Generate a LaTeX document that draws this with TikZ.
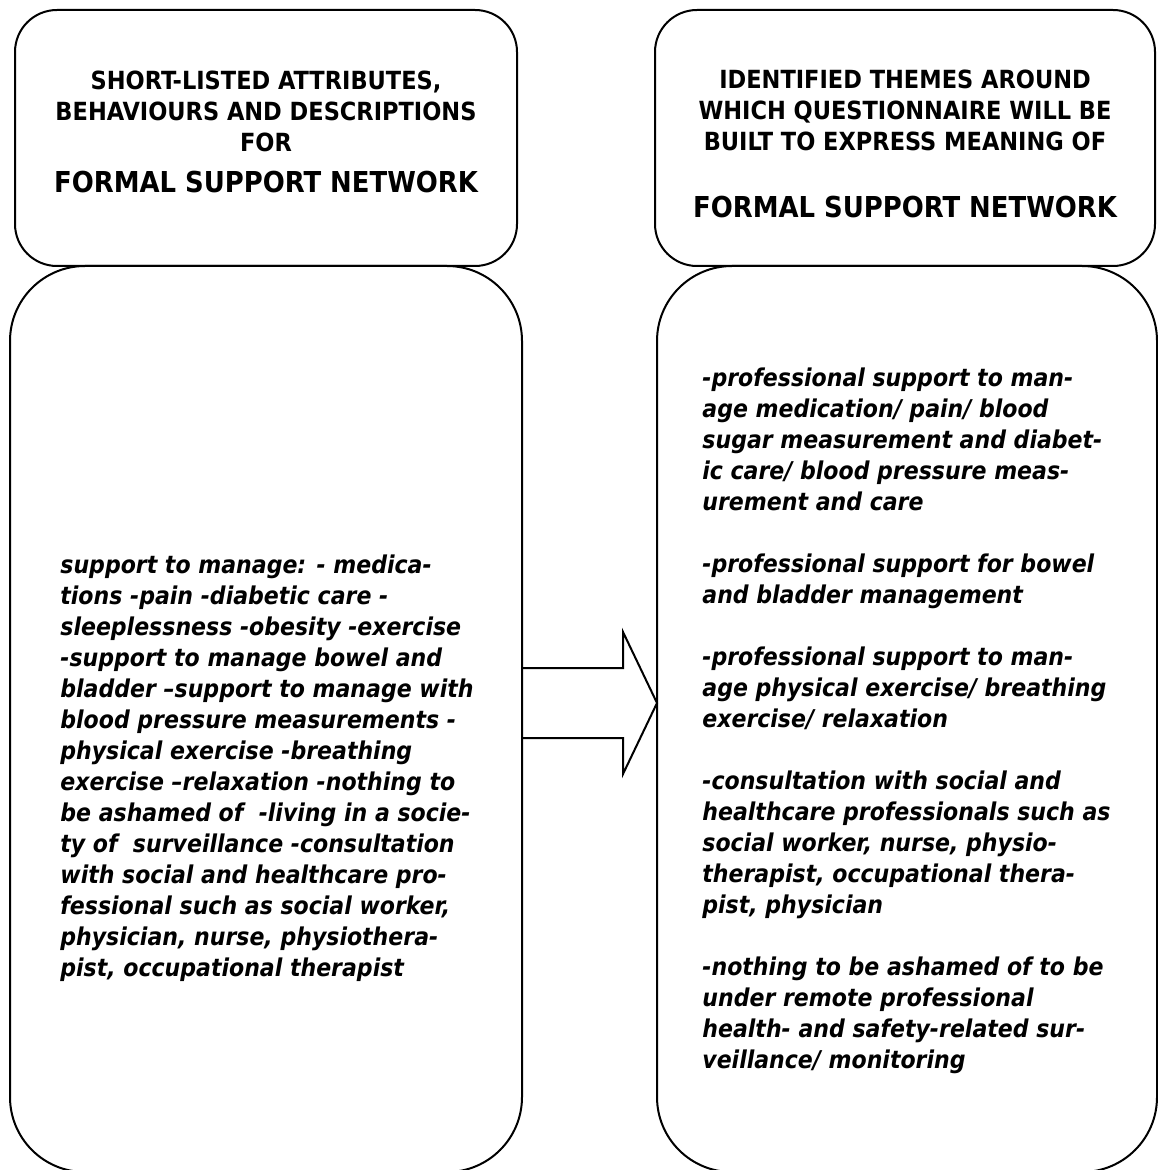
\documentclass[tikz,border=0pt]{standalone}
\usepackage{fontspec}
\setmainfont{DejaVu Sans Condensed}
\usetikzlibrary{calc}
\begin{document}
\begin{tikzpicture}[x=0.5pt,y=-0.5pt,
  headbox/.style={draw, line width=1pt, rounded corners=21pt, inner sep=0pt, outer sep=0pt},
  bodybox/.style={draw, line width=1pt, rounded corners=37.5pt, inner sep=0pt, outer sep=0pt},
  headtext/.style={inner sep=0pt, align=center, font=\fontsize{12.5pt}{15.5pt}\selectfont\bfseries},
  nametext/.style={inner sep=0pt, font=\fontsize{14.4pt}{17pt}\selectfont\bfseries},
  bodytext/.style={inner sep=0pt, align=left, anchor=north west, font=\fontsize{12.25pt}{15.5pt}\selectfont\bfseries\itshape},
  blockarrow/.style={draw, line width=1pt, line join=miter}]
\useasboundingbox (0,0) rectangle (1157,1170);

% boxes
\node[headbox, minimum width=251pt, minimum height=128pt] (tl) at (266,138) {};
\node[headbox, minimum width=250pt, minimum height=128pt] (tr) at (905,138) {};
\node[bodybox, minimum width=256pt, minimum height=453pt] (bl) at (266,719) {};
\node[bodybox, minimum width=250pt, minimum height=453pt] (br) at (907,719) {};

% headings
\node[headtext, anchor=north] (tlhead) at (266,71) {SHORT-LISTED ATTRIBUTES,\\BEHAVIOURS AND DESCRIPTIONS\\FOR};
\node[nametext] (tlname) at (266,182) {FORMAL SUPPORT NETWORK};
\node[headtext, anchor=north] (trhead) at (905,70) {IDENTIFIED THEMES AROUND\\WHICH QUESTIONNAIRE WILL BE\\BUILT TO EXPRESS MEANING OF};
\node[nametext] (trname) at (905,207) {FORMAL SUPPORT NETWORK};

% body texts
\node[bodytext] (bltext) at (60,554) {support to manage: - medica-\\
tions -pain -diabetic care -\\
sleeplessness -obesity -exercise\\
-support to manage bowel and\\
bladder –support to manage with\\
blood pressure measurements -\\
physical exercise -breathing\\
exercise –relaxation -nothing to\\
be ashamed of\ \ -living in a socie-\\
ty of\ \ surveillance -consultation\\
with social and healthcare pro-\\
fessional such as social worker,\\
physician, nurse, physiothera-\\
pist, occupational therapist};

\node[bodytext] (brtext) at (702,367) {-professional support to man-\\
age medication/ pain/ blood\\
sugar measurement and diabet-\\
ic care/ blood pressure meas-\\
urement and care\\[15.5pt]
-professional support for bowel\\
and bladder management\\[15.5pt]
-professional support to man-\\
age physical exercise/ breathing\\
exercise/ relaxation\\[15.5pt]
-consultation with social and\\
healthcare professionals such as\\
social worker, nurse, physio-\\
therapist, occupational thera-\\
pist, physician\\[15.5pt]
-nothing to be ashamed of to be\\
under remote professional\\
health- and safety-related sur-\\
veillance/ monitoring};

% block arrow between the two lower boxes
\coordinate (tail) at (bl.east |- 0,703);
\coordinate (tip) at (br.west |- 0,703);
\draw[blockarrow] ($(tail)+(0,-35)$) -- ($(tip)+(-34,-35)$) -- ($(tip)+(-34,-71)$)
  -- (tip) -- ($(tip)+(-34,71)$) -- ($(tip)+(-34,35)$) -- ($(tail)+(0,35)$);
\end{tikzpicture}
\end{document}
